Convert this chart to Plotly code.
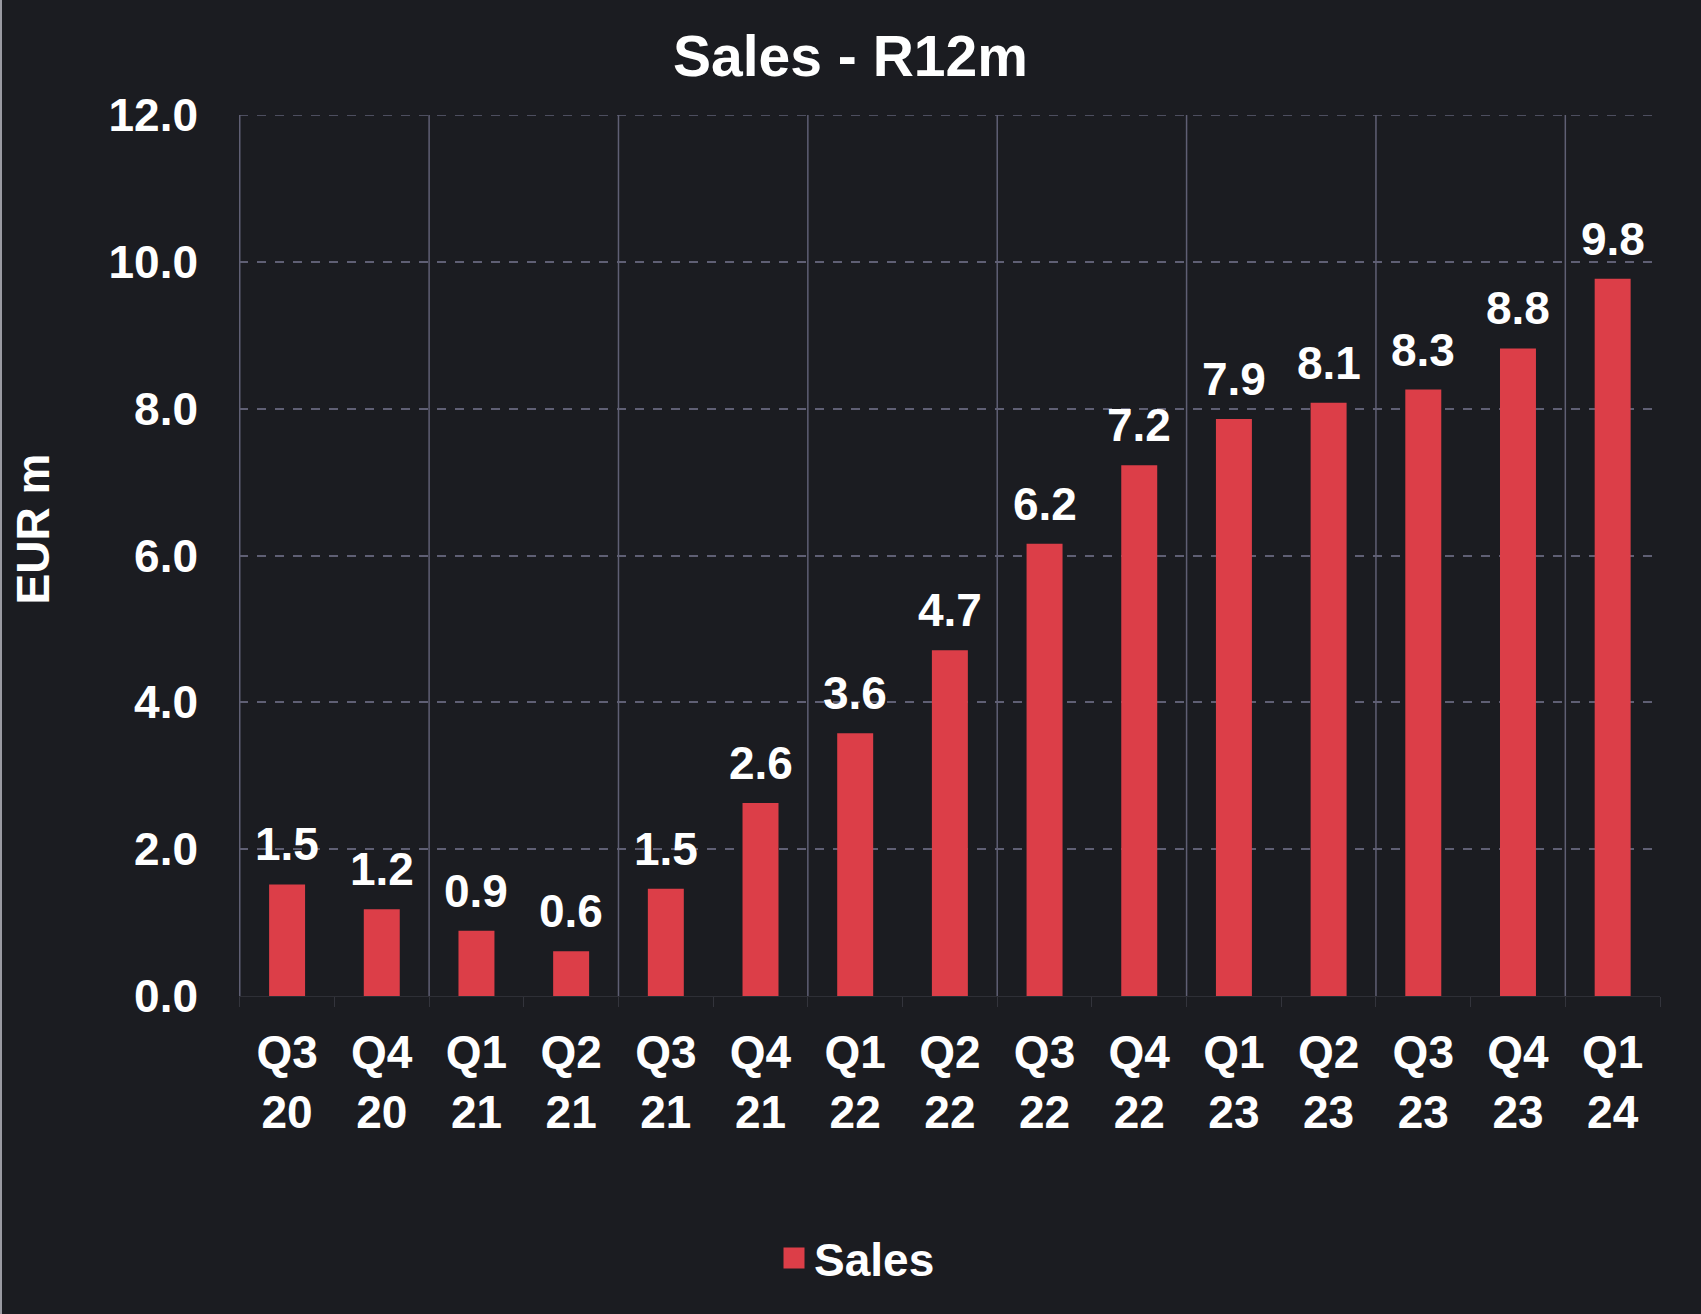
import plotly.graph_objects as go

categories = ["Q3<br>20", "Q4<br>20", "Q1<br>21", "Q2<br>21", "Q3<br>21", "Q4<br>21",
              "Q1<br>22", "Q2<br>22", "Q3<br>22", "Q4<br>22", "Q1<br>23", "Q2<br>23",
              "Q3<br>23", "Q4<br>23", "Q1<br>24"]
sales = [1.52, 1.18, 0.89, 0.61, 1.46, 2.63, 3.58, 4.71, 6.16, 7.23, 7.86, 8.08, 8.26, 8.82, 9.77]
y_ticks = [0, 2, 4, 6, 8, 10, 12]

BG = "#1b1c21"
BAR = "#dc3e48"
GRID = "#5f5f74"
FONT = "Liberation Sans, Arial, sans-serif"

W, H = 1701, 1314
ML, MR, MT, MB = 239, 41, 115, 318
PW, PH = W - ML - MR, H - MT - MB

fig = go.Figure()
fig.add_trace(go.Bar(x=categories, y=sales, name="Sales", marker_color=BAR,
                     marker_line_width=0, width=0.38, showlegend=False))
# legend entry with a larger square swatch
fig.add_trace(go.Scatter(x=[None], y=[None], mode="markers", name="Sales",
                         marker=dict(symbol="square", size=16, color=BAR,
                                     line=dict(color=BAR, width=5))))

for c, v in zip(categories, sales):
    fig.add_annotation(x=c, y=v, text=f"{v:.1f}", showarrow=False, yanchor="middle",
                       yshift=40, font=dict(family=FONT, size=46, color="white", weight="bold"))

# y-axis title
fig.add_annotation(x=(32.5 - ML) / PW, y=1 - (529 - MT) / PH, xref="paper", yref="paper",
                   text="EUR m", textangle=-90, showarrow=False, xanchor="center", yanchor="middle",
                   font=dict(family=FONT, size=46, color="white", weight="bold"))

# vertical separators every two quarters
for i in range(0, len(categories), 2):
    fig.add_shape(type="line", xref="x", yref="y", x0=i - 0.5, x1=i - 0.5, y0=0, y1=y_ticks[-1],
                  line=dict(color=GRID, width=1.5), layer="below")
# top dashed gridline
fig.add_shape(type="line", xref="paper", yref="y", x0=0, x1=1, y0=y_ticks[-1], y1=y_ticks[-1],
              line=dict(color=GRID, width=1.5, dash="dash"), layer="below")
# thin light border at the left edge of the image
fig.add_shape(type="line", xref="paper", yref="paper", x0=(1 - ML) / PW, x1=(1 - ML) / PW,
              y0=-MB / PH, y1=1 + MT / PH, line=dict(color="#9a9aa2", width=2))

fig.update_layout(
    width=W, height=H,
    paper_bgcolor=BG, plot_bgcolor=BG,
    margin=dict(l=ML, r=MR, t=MT, b=MB),
    font=dict(family=FONT, size=46, color="white", weight="bold"),
    title=dict(text="Sales - R12m", x=0.5, xref="container", xanchor="center",
               y=1 - 56 / H, yref="container", yanchor="middle",
               font=dict(size=57, color="white", family=FONT, weight="bold")),
    showlegend=True,
    legend=dict(orientation="h", x=857 / W, xanchor="center", xref="container",
                y=1 - 1258 / H, yanchor="middle", yref="container",
                font=dict(size=46, color="white", family=FONT, weight="bold"),
                bgcolor="rgba(0,0,0,0)"),
)
fig.update_xaxes(type="category", tickson="boundaries", ticks="outside", ticklen=10,
                 tickcolor="#33343c", showgrid=False, showline=True, linecolor="#2e2f36",
                 linewidth=1, ticklabelstandoff=16,
                 tickfont=dict(size=46, color="white", family=FONT, weight="bold"))
fig.update_yaxes(range=[0, 12], tickvals=y_ticks, tickformat=".1f", showgrid=True,
                 gridcolor=GRID, griddash="dash", gridwidth=1.5, zeroline=False,
                 ticks="", ticklabelstandoff=40,
                 tickfont=dict(size=46, color="white", family=FONT, weight="bold"))

fig.write_html("out.html", config={"displayModeBar": False},
               post_script="document.body.style.margin='0px';")
